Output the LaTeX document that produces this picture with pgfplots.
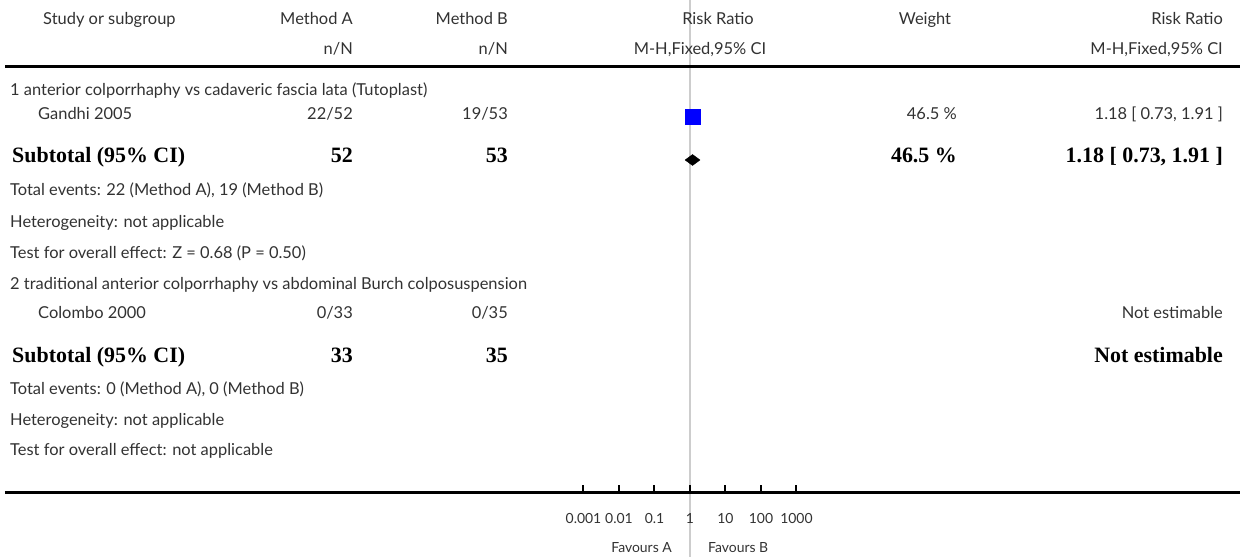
\documentclass[border=0pt]{standalone}
\usepackage{pgfplots}
\pgfplotsset{compat=1.18}
\usepackage{fontspec}
\setmainfont{Lato}
\newfontfamily\bserif{Liberation Serif}
\definecolor{vline}{RGB}{205,205,205}
\definecolor{txt}{RGB}{50,50,50}
\newcommand\nf{\fontsize{16.5}{19}\selectfont\color{txt}}
\newcommand\tf{\fontsize{14}{16}\selectfont\color{txt}}
\newcommand\bs{\bserif\bfseries\fontsize{22}{26}\selectfont\color{black}}
\begin{document}
\begin{tikzpicture}[x=1bp,y=1bp]
\begin{axis}[name=main, at={(5bp,0bp)}, anchor=north west,
  scale only axis, width=1235bp, height=492bp,
  xmode=log, xmin=5.06e-20, xmax=3.11e15,
  ymin=-492, ymax=0,
  axis x line*=bottom, axis y line=none,
  axis on top, clip=false,
  xtick={0.001,0.01,0.1,1,10,100,1000},
  xticklabels={0.001,0.01,0.1,1,10,100,1000},
  xminorticks=false,
  tick align=inside, major tick length=7bp,
  every tick/.style={black, line width=2bp},
  x axis line style={line width=3bp, black},
  xticklabel style={font=\tf, anchor=center, yshift=-26bp},
]
% vertical line of no effect
\addplot[vline, line width=2.5bp, forget plot] coordinates {(1,0) (1,-557)};
% Gandhi 2005
\addplot[only marks, mark=square*, mark size=7.5bp, blue, mark options={fill=blue, draw=blue}] coordinates {(1.18,-117)};
\addplot[black!85, line width=1.6bp] coordinates {(0.73,-117) (1.91,-117)};
\addplot[black!85, line width=1.4bp] coordinates {(1.18,-114) (1.18,-120)};
% Subtotal diamond
\addplot[fill=black, draw=black] coordinates {(0.73,-160) (1.18,-154.5) (1.91,-160) (1.18,-165.5)} -- cycle;
\end{axis}
% header separator
\draw[black, line width=3bp] (5,-67) -- (1240,-67);
\begin{scope}[every node/.style={inner sep=0pt, font=\nf}]
\node[anchor=mid west] at (43,-22) {Study or subgroup};
\node[anchor=mid east] at (353,-22) {Method A};
\node[anchor=mid east] at (508,-22) {Method B};
\node[anchor=mid] at (718,-22) {Risk Ratio};
\node[anchor=mid] at (925,-22) {Weight};
\node[anchor=mid east] at (1223,-22) {Risk Ratio};
\node[anchor=mid east] at (353,-52) {n/N};
\node[anchor=mid east] at (508,-52) {n/N};
\node[anchor=mid] at (700,-52) {M-H,Fixed,95\% CI};
\node[anchor=mid east] at (1223,-52) {M-H,Fixed,95\% CI};
%
\node[anchor=mid west] at (10,-93) {1 anterior colporrhaphy vs cadaveric fascia lata (Tutoplast)};
\node[anchor=mid west] at (38,-117) {Gandhi 2005};
\node[anchor=mid east] at (353,-117) {22/52};
\node[anchor=mid east] at (508,-117) {19/53};
\node[anchor=mid east] at (957,-117) {46.5 \%};
\node[anchor=mid east] at (1223,-117) {1.18 [ 0.73, 1.91 ]};
\node[anchor=mid west, font=\bs] at (12,-160) {Subtotal (95\% CI)};
\node[anchor=mid east, font=\bs] at (353,-160) {52};
\node[anchor=mid east, font=\bs] at (508,-160) {53};
\node[anchor=mid east, font=\bs] at (957,-160) {46.5 \%};
\node[anchor=mid east, font=\bs] at (1223,-160) {1.18 [ 0.73, 1.91 ]};
\node[anchor=mid west] at (10,-193) {Total events: 22 (Method A), 19 (Method B)};
\node[anchor=mid west] at (10,-225) {Heterogeneity: not applicable};
\node[anchor=mid west] at (10,-256) {Test for overall effect: Z = 0.68 (P = 0.50)};
%
\node[anchor=mid west] at (10,-287) {2 traditional anterior colporrhaphy vs abdominal Burch colposuspension};
\node[anchor=mid west] at (38,-316) {Colombo 2000};
\node[anchor=mid east] at (353,-316) {0/33};
\node[anchor=mid east] at (508,-316) {0/35};
\node[anchor=mid east] at (1223,-316) {Not estimable};
\node[anchor=mid west, font=\bs] at (12,-360) {Subtotal (95\% CI)};
\node[anchor=mid east, font=\bs] at (353,-360) {33};
\node[anchor=mid east, font=\bs] at (508,-360) {35};
\node[anchor=mid east, font=\bs] at (1223,-360) {Not estimable};
\node[anchor=mid west] at (10,-392) {Total events: 0 (Method A), 0 (Method B)};
\node[anchor=mid west] at (10,-423) {Heterogeneity: not applicable};
\node[anchor=mid west] at (10,-453) {Test for overall effect: not applicable};
%
\node[anchor=mid east, font=\tf] at (672,-550) {Favours A};
\node[anchor=mid west, font=\tf] at (708,-550) {Favours B};
\end{scope}
\pgfresetboundingbox
\path[use as bounding box] (0,0) rectangle (1245,-557);
\end{tikzpicture}
\end{document}
